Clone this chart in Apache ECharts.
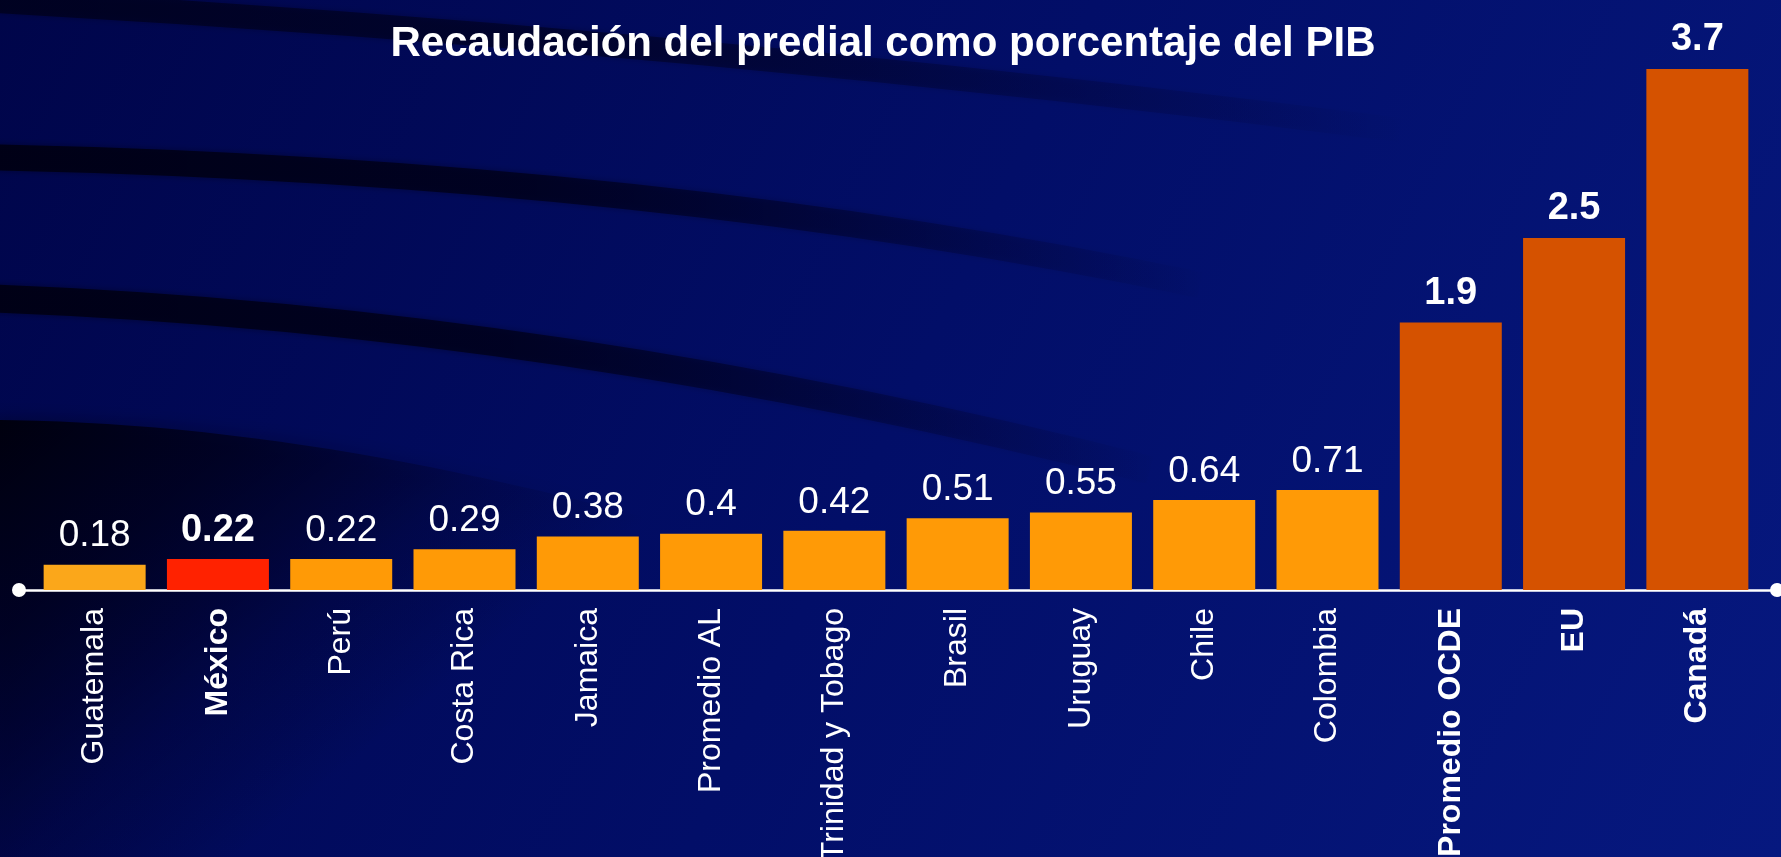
<!DOCTYPE html>
<html>
<head>
<meta charset="utf-8">
<script src="https://cdn.jsdelivr.net/npm/echarts@6/dist/echarts.min.js"></script>
<style>
html,body{margin:0;padding:0;background:#02094f;}
#chart{width:1781px;height:857px;}
</style>
</head>
<body>
<div id="chart"></div>
<script>
// ---- data ----
const titleText = 'Recaudación del predial como porcentaje del PIB';
const categories = ['Guatemala','México','Perú','Costa Rica','Jamaica','Promedio AL','Trinidad y Tobago','Brasil','Uruguay','Chile','Colombia','Promedio OCDE','EU','Canadá'];
const values = [0.18,0.22,0.22,0.29,0.38,0.4,0.42,0.51,0.55,0.64,0.71,1.9,2.5,3.7];
const highlighted = ['México'];
const oecdGroup = ['Promedio OCDE','EU','Canadá'];
const lightGroup = ['Guatemala'];

// ---- styling ----
const FONT = '"Liberation Sans", Arial, Helvetica, sans-serif';
function barColor(c){
  if (highlighted.includes(c)) return '#ff2200';
  if (oecdGroup.includes(c)) return '#d55200';
  if (lightGroup.includes(c)) return '#fba71a';
  return '#ff9a06';
}
function isBold(c){ return highlighted.includes(c) || oecdGroup.includes(c); }

const xData = categories.map(c => ({
  value: c,
  textStyle: { fontWeight: isBold(c) ? 'bold' : 'normal' }
}));
const barData = values.map((v, i) => {
  const c = categories[i];
  return {
    value: v,
    itemStyle: { color: barColor(c) },
    label: { fontWeight: isBold(c) ? 'bold' : 'normal', fontSize: isBold(c) ? 38 : 37 }
  };
});

// decorative background swooshes
function band(x1,y1,cx,cy,x2,y2,w,alpha){
  return {
    type: 'bezierCurve', silent: true, z: 0,
    shape: { x1:x1, y1:y1, cpx1:cx, cpy1:cy, x2:x2, y2:y2 },
    style: {
      fill: null, lineWidth: w,
      stroke: { type:'linear', x:0, y:0, x2:1, y2:0, colorStops:[
        {offset:0, color:'rgba(0,0,20,'+alpha+')'},
        {offset:0.45, color:'rgba(0,0,25,'+(alpha*0.8)+')'},
        {offset:1, color:'rgba(0,0,40,0)'}
      ]},
      shadowBlur: 6, shadowColor: 'rgba(0,0,20,0.5)'
    }
  };
}
function shadowRegion(){
  const pts = [];
  const p0=[-10,420], p1=[450,422], p2=[1050,650];
  for (let i=0;i<=40;i++){
    const t=i/40, u=1-t;
    pts.push([u*u*p0[0]+2*u*t*p1[0]+t*t*p2[0], u*u*p0[1]+2*u*t*p1[1]+t*t*p2[1]]);
  }
  pts.push([1050,870]); pts.push([-10,870]);
  return {
    type:'polygon', silent:true, z:0,
    shape:{ points: pts },
    style:{
      fill:{ type:'linear', x:0, y:0, x2:0.35, y2:1, colorStops:[
        {offset:0, color:'rgba(0,0,12,0.97)'},
        {offset:0.3, color:'rgba(0,0,25,0.7)'},
        {offset:0.6, color:'rgba(0,0,35,0.22)'},
        {offset:0.85, color:'rgba(0,0,40,0)'}
      ]},
      shadowBlur: 18, shadowColor:'rgba(0,0,20,0.5)'
    }
  };
}

const chart = echarts.init(document.getElementById('chart'), null, {renderer:'canvas'});
chart.setOption({
  animation: false,
  backgroundColor: { type:'linear', x:0, y:0, x2:1, y2:1, colorStops:[
    {offset:0, color:'#00054a'},
    {offset:0.5, color:'#020e68'},
    {offset:1, color:'#06187f'}
  ]},
  graphic: [
    shadowRegion(),
    band(-20,0, 700,40, 1400,130, 24, 0.65),
    band(-20,157, 650,170, 1200,285, 26, 0.95),
    band(-20,298, 550,318, 1150,470, 28, 0.95)
  ],
  title: {
    text: titleText,
    left: 878, top: 18, textAlign: 'center',
    textStyle: { color:'#ffffff', fontFamily: FONT, fontWeight:'bold', fontSize: 42 }
  },
  grid: [
    { left: 33, right: 22, top: 69, bottom: 267, containLabel: false, outerBoundsMode: 'none' },
    { left: 19, right: 4, top: 69, bottom: 267, containLabel: false, outerBoundsMode: 'none' }
  ],
  xAxis: [
    { type:'category', gridIndex:0, data: xData,
      axisLine:{show:false}, axisTick:{show:false},
      axisLabel:{ rotate:90, margin:18, color:'#ffffff', fontFamily:FONT, fontSize:32, interval:0 }
    },
    { type:'value', gridIndex:1, min:0, max:1,
      axisLine:{ show:true, symbol:['circle','circle'], symbolSize:[14,14], lineStyle:{color:'#ffffff', width:2.5} },
      axisTick:{show:false}, axisLabel:{show:false}, splitLine:{show:false}
    }
  ],
  yAxis: [
    { type:'value', gridIndex:0, min:0, max:3.7, show:false, splitLine:{show:false} },
    { type:'value', gridIndex:1, min:0, max:1, show:false, splitLine:{show:false} }
  ],
  series: [{
    type:'bar', xAxisIndex:0, yAxisIndex:0,
    data: barData,
    barWidth: 102,
    z: 5,
    label: { show:true, position:'top', distance:10, color:'#ffffff', fontFamily:FONT, fontSize:37 }
  }]
});
</script>
</body>
</html>
